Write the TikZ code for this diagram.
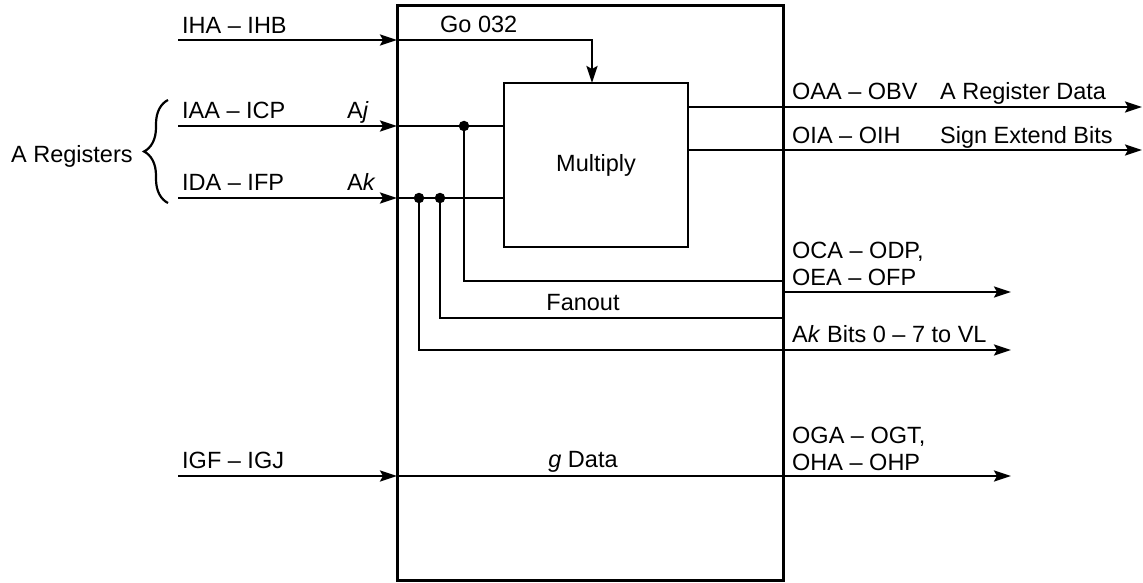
\documentclass[tikz,border=0pt]{standalone}
\usepackage{fontspec}
\setmainfont{Liberation Sans}
\usetikzlibrary{arrows.meta,decorations.pathreplacing}
\begin{document}
\begin{tikzpicture}[x=1pt,y=-1pt,
  font=\fontsize{23.5}{28}\selectfont,
  wire/.style={line width=2.3pt},
  arr/.style={wire,-{Stealth[length=17pt,width=11pt,inset=3pt]}},
  lbl/.style={anchor=base west,inner sep=0pt},
  clbl/.style={anchor=base,inner sep=0pt},
  dot/.style={circle,fill=black,inner sep=0pt,minimum size=10.5pt},
  bigbox/.style={draw,line width=3pt,minimum width=386pt,minimum height=574pt,inner sep=0pt,outer sep=0pt},
  mulbox/.style={draw,line width=2.3pt,minimum width=184pt,minimum height=164pt,inner sep=0pt,outer sep=0pt}]
\useasboundingbox (0,0) rectangle (1143,583);

\node[bigbox] (main) at (590,293) {};
\node[mulbox] (mul) at (596,165) {\raisebox{5pt}{Multiply}};

% input free ends
\coordinate (iIH) at (178,40);
\coordinate (iAj) at (178,126);
\coordinate (iAk) at (178,198);
\coordinate (iG) at (178,476);
% output free ends
\coordinate (oA) at (1142,107);
\coordinate (oS) at (1142,150);
\coordinate (oC) at (1011,292);
\coordinate (oV) at (1011,350);
\coordinate (oG) at (1011,476);
\coordinate (goc) at (592,40);

% dots
\node[dot] (d1) at (464,126) {};
\node[dot] (d2) at (419,198) {};
\node[dot] (d3) at (440,198) {};

% inputs
\draw[arr] (iIH) -- (main.west |- iIH);
\draw[arr] (main.west |- iIH) -- (goc) -- (goc |- mul.north);
\draw[arr] (iAj) -- (main.west |- iAj);
\draw[wire] (main.west |- iAj) -- (mul.west |- iAj);
\draw[arr] (iAk) -- (main.west |- iAk);
\draw[wire] (main.west |- iAk) -- (mul.west |- iAk);
\draw[arr] (iG) -- (main.west |- iG);
\draw[arr] (main.west |- iG) -- (oG);

% outputs of multiply
\draw[arr] (mul.east |- oA) -- (oA);
\draw[arr] (mul.east |- oS) -- (oS);

% fanout
\draw[wire] (d1.center) -- (464,281) -- (main.east |- 0,281);
\draw[arr] (main.east |- oC) -- (oC);
\draw[wire] (d3.center) -- (440,318) -- (main.east |- 0,318);
\draw[arr] (d2.center) -- (419,350) -- (oV);

% brace
\draw[line width=2.2pt,decorate,decoration={brace,amplitude=24pt}] (168,203) -- (168,100);

% labels
\node[lbl] (tIH) at (182,34) {IHA \textendash{} IHB};
\node[lbl] (tAA) at (182,119) {IAA \textendash{} ICP};
\node[lbl] (tDA) at (182,190) {IDA \textendash{} IFP};
\node[lbl] (tAj) at (347,119) {A\textit{j}};
\node[lbl] (tAk) at (347,190) {A\textit{k}};
\node[lbl] (tAR) at (11,162) {A Registers};
\node[lbl] (tIG) at (182,468) {IGF \textendash{} IGJ};
\node[lbl] (tGo) at (440,33) {Go 032};
\node[clbl] (tFan) at (583,310) {Fanout};
\node[clbl] (tGD) at (583,467) {\textit{g} Data};
\node[lbl] (tOA) at (792,100) {OAA \textendash{} OBV};
\node[lbl] (tOAd) at (940,100) {A Register Data};
\node[lbl] (tOI) at (792,143) {OIA \textendash{} OIH};
\node[lbl] (tOId) at (940,143) {Sign Extend Bits};
\node[lbl] (tOC) at (792,258) {OCA \textendash{} ODP,};
\node[lbl] (tOE) at (792,285) {OEA \textendash{} OFP};
\node[lbl] (tAkB) at (792,342) {A\textit{k} Bits 0 \textendash{} 7 to VL};
\node[lbl] (tOG) at (792,443) {OGA \textendash{} OGT,};
\node[lbl] (tOH) at (792,470) {OHA \textendash{} OHP};
\end{tikzpicture}
\end{document}
